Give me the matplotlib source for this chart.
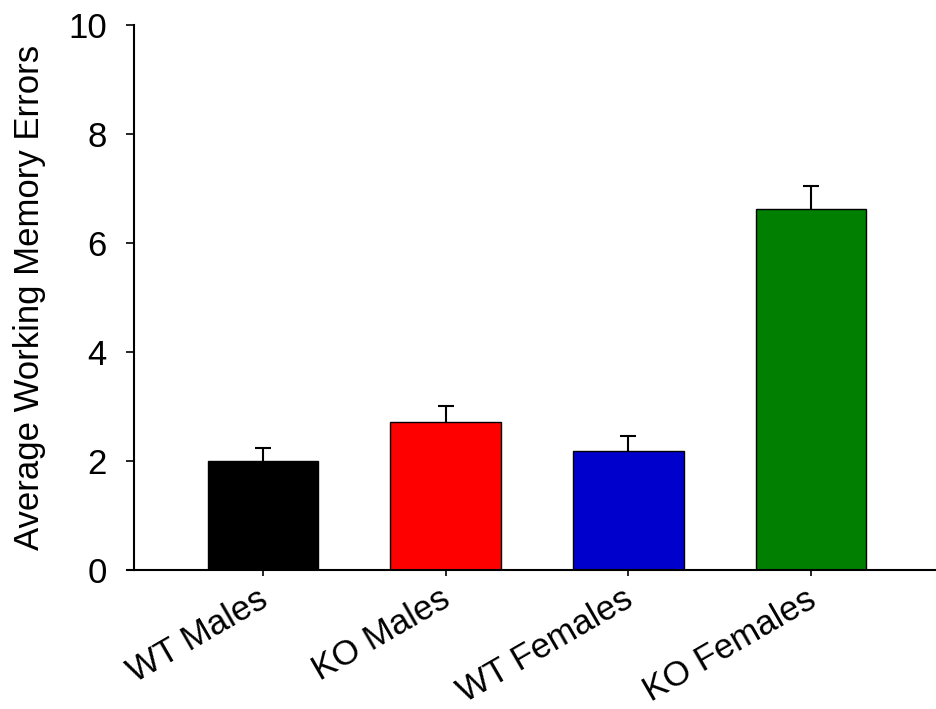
import matplotlib
matplotlib.use("Agg")
import matplotlib.pyplot as plt
import matplotlib.transforms as mtransforms
import numpy as np

categories = ["WT Males", "KO Males", "WT Females", "KO Females"]
means = [1.99, 2.71, 2.18, 6.61]
sems = [0.25, 0.30, 0.28, 0.43]
colors = ["#000000", "#FF0000", "#0000CC", "#007F00"]
yticks = [0, 2, 4, 6, 8, 10]

plt.rcParams['font.family'] = ['Liberation Sans', 'DejaVu Sans']

W, H = 936, 709
fig = plt.figure(figsize=(W / 100, H / 100), dpi=100)
ax = fig.add_axes([127 / W, 139 / H, (936 - 127) / W, (570 - 24.5) / H])

x = np.arange(len(categories))
m = np.array(means)
s = np.array(sems)
ax.bar(x, m, width=0.605, color=colors, edgecolor="black", linewidth=1.0, zorder=2)
ax.vlines(x, m, m + s, colors="black", linewidth=1.5, zorder=1)
ax.plot(x, m + s, linestyle="none", marker="_", markersize=11.5,
        markeredgewidth=1.5, color="black", zorder=1)

ax.set_xlim(-0.744, 3.684)
ax.set_ylim(0, 10)
ax.set_yticks(yticks)
ax.set_yticklabels([str(t) for t in yticks])
ax.set_xticks(x)
ax.set_xticklabels(categories, rotation=30, ha="right", rotation_mode="anchor")

ax.spines["top"].set_visible(False)
ax.spines["right"].set_visible(False)
ax.spines["left"].set_position(("outward", -7 * 72 / 100))
ax.spines["left"].set_linewidth(1.5)
ax.spines["bottom"].set_linewidth(1.5)
ax.tick_params(axis="y", direction="out", length=5.5, width=1.2, pad=14, labelsize=25)
ax.tick_params(axis="x", direction="out", length=4, width=1.2, pad=5, labelsize=25)

offset = mtransforms.ScaledTranslation(-6 / 100, 0, fig.dpi_scale_trans)
for lab in ax.get_xticklabels():
    lab.set_transform(lab.get_transform() + offset)

ax.set_ylabel("Average Working Memory Errors", fontsize=25, labelpad=16)

fig.savefig("out.png", dpi=100)
